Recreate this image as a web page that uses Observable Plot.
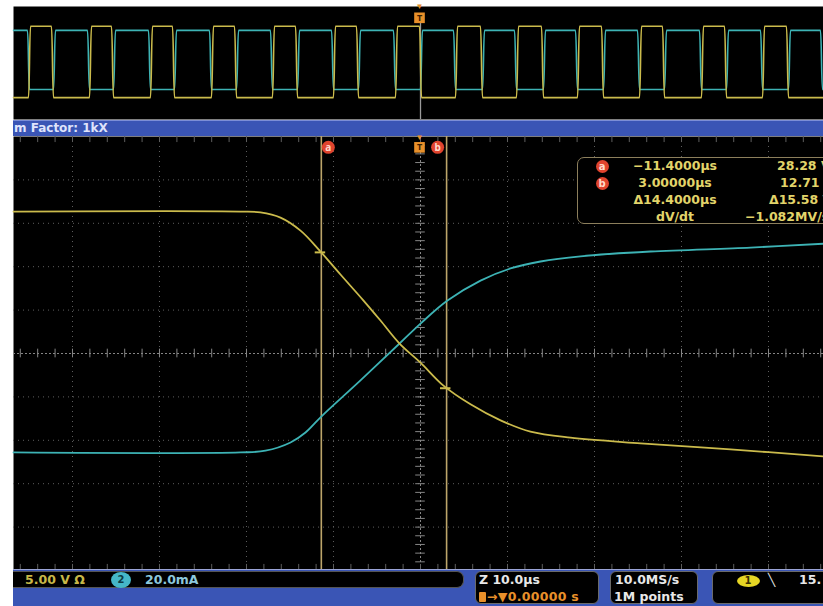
<!DOCTYPE html>
<html><head><meta charset="utf-8">
<script src="https://cdn.jsdelivr.net/npm/d3@7"></script>
<script src="https://cdn.jsdelivr.net/npm/@observablehq/plot@0.6"></script>
<style>
html,body{margin:0;padding:0;background:#fff;}
#wrap{position:relative;width:823px;height:606px;overflow:hidden;background:#fff;font-family:"DejaVu Sans",Verdana,sans-serif;font-weight:bold;}
#wrap svg{position:absolute;left:0;}
.box{position:absolute;background:#000;box-sizing:border-box;}
.t{position:absolute;white-space:nowrap;font-size:12.5px;line-height:14px;}
.circ{position:absolute;border-radius:50%;text-align:center;font-size:10px;}
</style></head><body>
<div id="wrap"></div>
<script>
// ---------- DATA ----------
// Overview record (time in ms, level in screen divisions)
const ovYellowRise = [-44.94,-37.93,-30.92,-23.91,-16.90,-9.89,-2.76,4.14,11.15,18.16,25.29,32.41,39.43];
const ovYellowFall = [-42.30,-35.40,-28.39,-21.26,-14.25,-7.24,0.00,7.01,14.02,20.92,27.93,35.06,42.18];
const ovYellowHigh = 2.6, ovYellowLow = -2.45;
const ovCyanFall = [-45.06,-38.16,-31.15,-24.14,-17.13,-10.11,-2.99,3.91,10.92,17.93,25.06,32.18,39.20,46.09];
const ovCyanRise = [-42.07,-35.17,-28.16,-21.03,-14.02,-7.01,0.11,7.24,14.25,21.15,28.16,35.29,42.41];
const ovCyanHigh = 2.31, ovCyanLow = -1.88;

// Zoomed window (time in µs, level in screen divisions)
const ch1Time = [-46.78,-20.69,-18.39,-16.09,-13.79,-11.72,-9.20,-6.55,-4.60,-2.41,0,2.64,5.75,9.20,12.64,17.24,25.29,35.63,46.32];
const ch1Level = [3.27,3.27,3.25,3.13,2.83,2.40,1.82,1.22,0.76,0.23,-0.21,-0.74,-1.17,-1.54,-1.80,-1.94,-2.07,-2.21,-2.37];
const ch2Time = [-46.78,-20.69,-17.82,-14.94,-13.22,-11.49,-6.90,-2.41,0,3.10,6.90,10.34,13.79,18.39,26.44,37.93,46.32];
const ch2Level = [-2.28,-2.28,-2.24,-2.05,-1.82,-1.47,-0.62,0.23,0.69,1.22,1.68,1.96,2.12,2.24,2.35,2.44,2.53];

const cursorNames = ["a","b"];
const cursorTimes = [-11.4, 3.0];
const cursorCh1Level = [2.33, -0.80];
const triggerTime = 0;

const gridX = [-40,-30,-20,-10,10,20,30,40];
const gridY = [-4,-3,-2,-1,1,2,3,4];

// ---------- STYLE ----------
const YEL = "#cbbb4c", CYN = "#3db3b5", CUR = "#bca56a", ORANGE = "#e8902a", RED = "#e0442e";
const X_DOMAIN = [-46.78, 46.32];

function square(rises, falls, hi, lo, startHigh, t0, t1, d) {
  const edges = [...rises.map(t => ({t, up: true})), ...falls.map(t => ({t, up: false}))].sort((a, b) => a.t - b.t);
  const pts = [{t: t0, v: startHigh ? hi : lo}];
  for (const e of edges) {
    pts.push({t: e.t - d, v: e.up ? lo : hi});
    pts.push({t: e.t + d, v: e.up ? hi : lo});
  }
  pts.push({t: t1, v: pts[pts.length - 1].v});
  return pts;
}
const ovYellow = square(ovYellowRise, ovYellowFall, ovYellowHigh, ovYellowLow, false, X_DOMAIN[0], X_DOMAIN[1], 0.12);
const ovCyan = square(ovCyanRise, ovCyanFall, ovCyanHigh, ovCyanLow, true, X_DOMAIN[0], X_DOMAIN[1], 0.12);
const ch1 = ch1Time.map((t, i) => ({t, v: ch1Level[i]}));
const ch2 = ch2Time.map((t, i) => ({t, v: ch2Level[i]}));
const cursors = cursorTimes.map((t, i) => ({name: cursorNames[i], t, v: cursorCh1Level[i]}));

const wrap = document.getElementById("wrap");

// ---------- OVERVIEW ----------
const ov = Plot.plot({
  width: 823, height: 120, marginLeft: 13, marginRight: 0, marginTop: 6, marginBottom: 1,
  x: {domain: X_DOMAIN, axis: null},
  y: {domain: [-4, 4], axis: null},
  style: {background: "transparent", overflow: "visible"},
  marks: [
    Plot.frame({fill: "#000", stroke: null}),
    Plot.ruleX([triggerTime], {y1: -4, y2: 2.8, stroke: "#9a9a9a", strokeWidth: 1.3}),
    Plot.line(ovCyan, {x: "t", y: "v", stroke: CYN, strokeWidth: 1.6, curve: "bump-x"}),
    Plot.line(ovYellow, {x: "t", y: "v", stroke: YEL, strokeWidth: 1.6, curve: "bump-x"}),
    Plot.text([triggerTime], {x: d => d, y: 4, text: () => "\u25BC", fill: ORANGE, fontSize: 8, dx: -1}),
    Plot.dot([triggerTime], {x: d => d, y: 3.2, symbol: "square", r: 6, fill: ORANGE, dx: -1}),
    Plot.text([triggerTime], {x: d => d, y: 3.2, text: () => "T", fill: "#3a1e00", fontSize: 9, fontWeight: "bold", dx: -1})
  ]
});
ov.style.top = "0px";
wrap.appendChild(ov);

// zoom factor bar
const bar = document.createElement("div");
bar.className = "box";
Object.assign(bar.style, {left: "13px", top: "120px", width: "810px", height: "16px", background: "#3a55b5", borderTop: "1px solid #7c8ed6"});
wrap.appendChild(bar);
const barTxt = document.createElement("div");
barTxt.className = "t";
Object.assign(barTxt.style, {left: "14px", top: "121px", color: "#dfe3fb", fontSize: "12px"});
barTxt.textContent = "m Factor: 1kX";
wrap.appendChild(barTxt);

// ---------- MAIN ----------
const minorX = d3.range(-46, 47, 2);
const minorY = d3.range(-5, 5.01, 0.2).map(v => Math.round(v * 10) / 10);
const main = Plot.plot({
  width: 823, height: 434, marginLeft: 13, marginRight: 0, marginTop: 0, marginBottom: 0,
  x: {domain: X_DOMAIN, axis: null},
  y: {domain: [-5, 5], axis: null},
  style: {background: "transparent", overflow: "visible"},
  marks: [
    Plot.frame({fill: "#000", stroke: null}),
    Plot.ruleX(gridX, {stroke: "#5e5e5e", strokeDasharray: "1,4", strokeWidth: 1}),
    Plot.ruleY(gridY, {stroke: "#5e5e5e", strokeDasharray: "1,4", strokeWidth: 1}),
    Plot.ruleX([0], {stroke: "#858585", strokeDasharray: "2,2", strokeWidth: 1}),
    Plot.ruleY([0], {stroke: "#858585", strokeDasharray: "2,2", strokeWidth: 1}),
    Plot.ruleX(minorX, {y1: -0.1, y2: 0.1, stroke: "#858585"}),
    Plot.ruleY(minorY, {x1: -0.55, x2: 0.55, stroke: "#858585"}),
    Plot.ruleX(minorX, {y1: 4.86, y2: 5, stroke: "#5e5e5e"}),
    Plot.ruleX(minorX, {y1: -5, y2: -4.86, stroke: "#5e5e5e"}),
    Plot.ruleX(cursors, {x: "t", stroke: CUR, strokeWidth: 1.6}),
    Plot.line(ch2, {x: "t", y: "v", stroke: CYN, strokeWidth: 1.8, curve: "catmull-rom"}),
    Plot.line(ch1, {x: "t", y: "v", stroke: YEL, strokeWidth: 1.8, curve: "catmull-rom"}),
    Plot.ruleY(cursors, {y: "v", x1: d => d.t - 0.7, x2: d => d.t + 0.5, stroke: YEL, strokeWidth: 2}),
    Plot.dot(cursors.filter(d => d.name === "a"), {x: "t", y: 4.75, dx: 7, r: 6.5, fill: RED}),
    Plot.dot(cursors.filter(d => d.name === "b"), {x: "t", y: 4.75, dx: -9, r: 6.5, fill: RED}),
    Plot.text(cursors.filter(d => d.name === "a"), {x: "t", y: 4.75, dx: 7, text: "name", fill: "#ffd9cc", fontSize: 10, fontWeight: "bold"}),
    Plot.text(cursors.filter(d => d.name === "b"), {x: "t", y: 4.75, dx: -9, text: "name", fill: "#ffd9cc", fontSize: 10, fontWeight: "bold"}),
    Plot.text([triggerTime], {x: d => d, y: 4.97, text: () => "\u25BC", fill: ORANGE, fontSize: 8, dx: -1}),
    Plot.dot([triggerTime], {x: d => d, y: 4.75, symbol: "square", r: 6, fill: ORANGE, dx: -1}),
    Plot.text([triggerTime], {x: d => d, y: 4.75, text: () => "T", fill: "#3a1e00", fontSize: 9, fontWeight: "bold", dx: -1})
  ]
});
main.style.top = "136px";
wrap.appendChild(main);

// ---------- HTML overlays ----------
function box(l, t, w, h, extra) {
  const b = document.createElement("div");
  b.className = "box";
  Object.assign(b.style, {left: l + "px", top: t + "px", width: w + "px", height: h + "px"}, extra || {});
  wrap.appendChild(b);
  return b;
}
function txt(l, t, s, color, extra) {
  const d = document.createElement("div");
  d.className = "t";
  Object.assign(d.style, {left: l + "px", top: t + "px", color}, extra || {});
  d.textContent = s;
  wrap.appendChild(d);
  return d;
}
function circ(cx, cy, w, h, bg, s, color) {
  const c = document.createElement("div");
  c.className = "circ";
  Object.assign(c.style, {left: (cx - w / 2) + "px", top: (cy - h / 2) + "px", width: w + "px", height: h + "px", background: bg, color, lineHeight: h + "px"});
  c.textContent = s;
  wrap.appendChild(c);
}

// readout
box(577, 157, 270, 67, {border: "1.5px solid #8c7f5c", borderRadius: "7px"});
const RT = "#e2d46a";
circ(602, 166, 13, 13, RED, "a", "#ffd9cc");
circ(602, 183, 13, 13, RED, "b", "#ffd9cc");
const rows = [
  ["\u221211.4000\u00B5s", "28.28 V", 166, 777],
  ["3.00000\u00B5s", "12.71 V", 183, 780],
  ["\u039414.4000\u00B5s", "\u039415.58 V", 200, 769],
  ["dV/dt", "\u22121.082MV/s", 217, 745]
];
for (const [a, b, cy, xb] of rows) {
  txt(600, cy - 7, a, RT, {width: "150px", textAlign: "center"});
  txt(xb, cy - 7, b, RT);
}

// bottom status area
box(13, 569, 810, 37, {background: "#3a55b5", borderTop: "1px solid #9aa4d6"});
box(13, 571, 451, 17, {borderRadius: "0 7px 7px 0", border: "1px solid #555", borderLeft: "none"});
txt(25, 573, "5.00 V \u03A9", "#c8b848", {fontSize: "12.5px"});
circ(121, 580, 20, 16, "#45b7c8", "2", "#0d3a44");
txt(145, 573, "20.0mA", "#8cc8dc", {fontSize: "12.5px"});

box(475, 571, 124, 33, {border: "1px solid #6a6a6a", borderRadius: "6px"});
txt(479, 573, "Z 10.0\u00B5s", "#e8e8e8", {fontSize: "12.5px"});
box(479, 592, 7, 10, {background: ORANGE, borderRadius: "1px"});
txt(487, 590, "\u2192\u25BC0.00000 s", ORANGE, {fontSize: "12.5px", letterSpacing: "0.3px"});

box(610, 571, 88, 33, {border: "1px solid #6a6a6a", borderRadius: "6px"});
txt(615, 573, "10.0MS/s", "#e8e8e8", {fontSize: "12.5px"});
txt(614, 590, "1M points", "#e8e8e8", {fontSize: "12.5px"});

box(712, 571, 130, 33, {border: "1px solid #6a6a6a", borderRadius: "6px"});
circ(748, 581, 23, 12, "#e6d624", "1", "#3a3000");
txt(768, 573, "\u2572", "#e8e8e8", {fontSize: "12px"});
txt(799, 573, "15.", "#e8e8e8", {fontSize: "12.5px"});
</script></body></html>
